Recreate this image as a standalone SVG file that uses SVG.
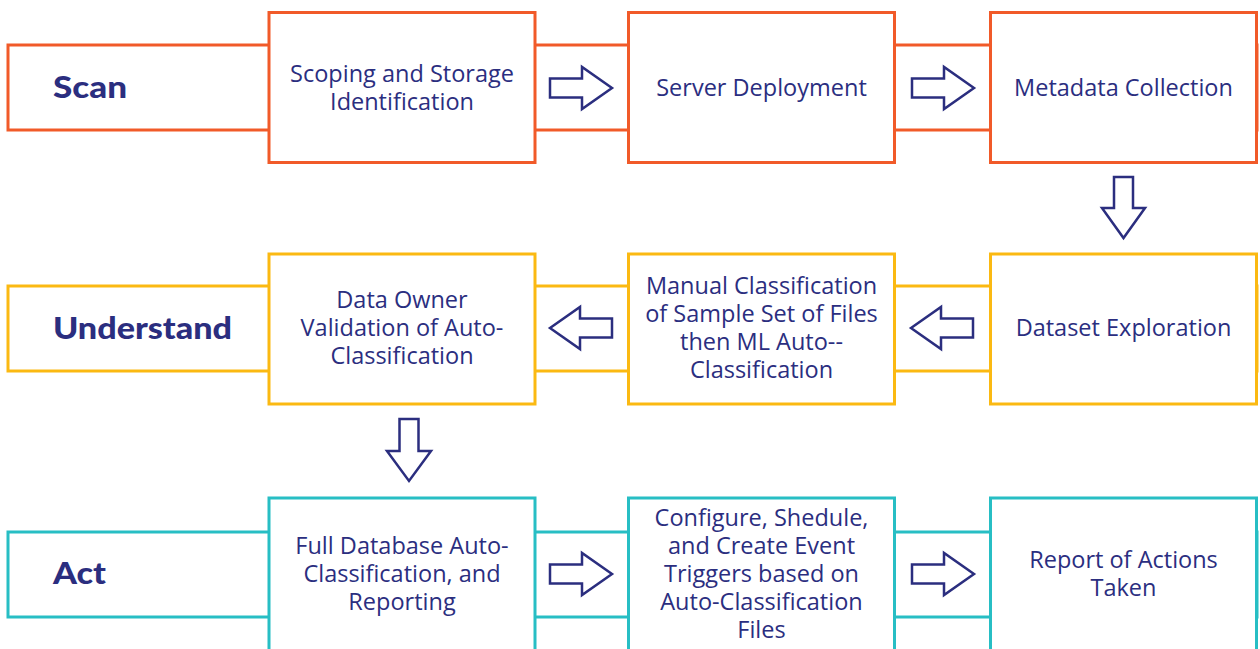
<svg xmlns="http://www.w3.org/2000/svg" width="1260" height="649" viewBox="0 0 1260 649">
<style>
.band{fill:#fff;stroke-width:3}
.box{fill:#fff;stroke-width:3}
.o{stroke:#F15A29}
.y{stroke:#FBB912}
.t{stroke:#27BEC4}
.lbl{font-family:Lato,"Liberation Sans",sans-serif;font-weight:900;font-size:30px;fill:#2B2E7F}
.txt{font-family:"Open Sans","Liberation Sans",sans-serif;font-size:23.5px;fill:#2B2E7F;text-anchor:middle}
.arr{fill:#fff;stroke:#2B2E7F;stroke-width:2.5;stroke-linejoin:miter}
</style>
<rect width="1260" height="649" fill="#fff"/>
<g id="row-scan">
<rect class="band o" x="8" y="45" width="1249" height="85"/>
<text class="lbl" x="53" y="98" textLength="74" lengthAdjust="spacingAndGlyphs">Scan</text>
</g>
<g id="row-understand">
<rect class="band y" x="8" y="286" width="1249" height="85"/>
<text class="lbl" x="53" y="339" textLength="179" lengthAdjust="spacingAndGlyphs">Understand</text>
</g>
<g id="row-act">
<rect class="band t" x="8" y="532" width="1249" height="85"/>
<text class="lbl" x="53" y="584" textLength="53" lengthAdjust="spacingAndGlyphs">Act</text>
</g>
<g id="n1"><rect class="box o" x="269" y="12.5" width="266" height="150"/>
<text class="txt" x="402" y="82">Scoping and Storage</text><text class="txt" x="402" y="110">Identification</text></g>
<g id="n2"><rect class="box o" x="628.5" y="12.5" width="266" height="150"/>
<text class="txt" x="761.5" y="96">Server Deployment</text></g>
<g id="n3"><rect class="box o" x="990.5" y="12.5" width="266" height="150"/>
<text class="txt" x="1123.5" y="96">Metadata Collection</text></g>
<g id="n4"><rect class="box y" x="990.5" y="254" width="266" height="150"/>
<text class="txt" x="1123.5" y="336">Dataset Exploration</text></g>
<g id="n5"><rect class="box y" x="628.5" y="254" width="266" height="150"/>
<text class="txt" x="761.5" y="294">Manual Classification</text><text class="txt" x="761.5" y="322">of Sample Set of Files</text><text class="txt" x="761.5" y="350">then ML Auto--</text><text class="txt" x="761.5" y="378">Classification</text></g>
<g id="n6"><rect class="box y" x="269" y="254" width="266" height="150"/>
<text class="txt" x="402" y="308">Data Owner</text><text class="txt" x="402" y="336">Validation of Auto-</text><text class="txt" x="402" y="364">Classification</text></g>
<g id="n7"><rect class="box t" x="269" y="498" width="266" height="154"/>
<text class="txt" x="402" y="554">Full Database Auto-</text><text class="txt" x="402" y="582">Classification, and</text><text class="txt" x="402" y="610">Reporting</text></g>
<g id="n8"><rect class="box t" x="628.5" y="498" width="266" height="154"/>
<text class="txt" x="761.5" y="526">Configure, Shedule,</text><text class="txt" x="761.5" y="554">and Create Event</text><text class="txt" x="761.5" y="582">Triggers based on</text><text class="txt" x="761.5" y="610">Auto-Classification</text><text class="txt" x="761.5" y="638">Files</text></g>
<g id="n9"><rect class="box t" x="990.5" y="498" width="266" height="154"/>
<text class="txt" x="1123.5" y="568">Report of Actions</text><text class="txt" x="1123.5" y="596">Taken</text></g>
<g id="connectors">
<path class="arr" d="M550,78.5 H582 V67 L612,88 L582,109 V97.5 H550 Z"/>
<path class="arr" d="M912,78.5 H944 V67 L974,88 L944,109 V97.5 H912 Z"/>
<path class="arr" d="M1114,177 H1133 V208 H1145 L1123.5,238 L1102,208 H1114 Z"/>
<path class="arr" d="M911,328 L941,307 V318.5 H973 V337.5 H941 V349 Z"/>
<path class="arr" d="M550,328 L580,307 V318.5 H612 V337.5 H580 V349 Z"/>
<path class="arr" d="M399.5,419 H418.5 V451 H431 L409,481 L387,451 H399.5 Z"/>
<path class="arr" d="M550,564.5 H582 V553 L612,574 L582,595 V583.5 H550 Z"/>
<path class="arr" d="M912,564.5 H944 V553 L974,574 L944,595 V583.5 H912 Z"/>
</g>
</svg>
